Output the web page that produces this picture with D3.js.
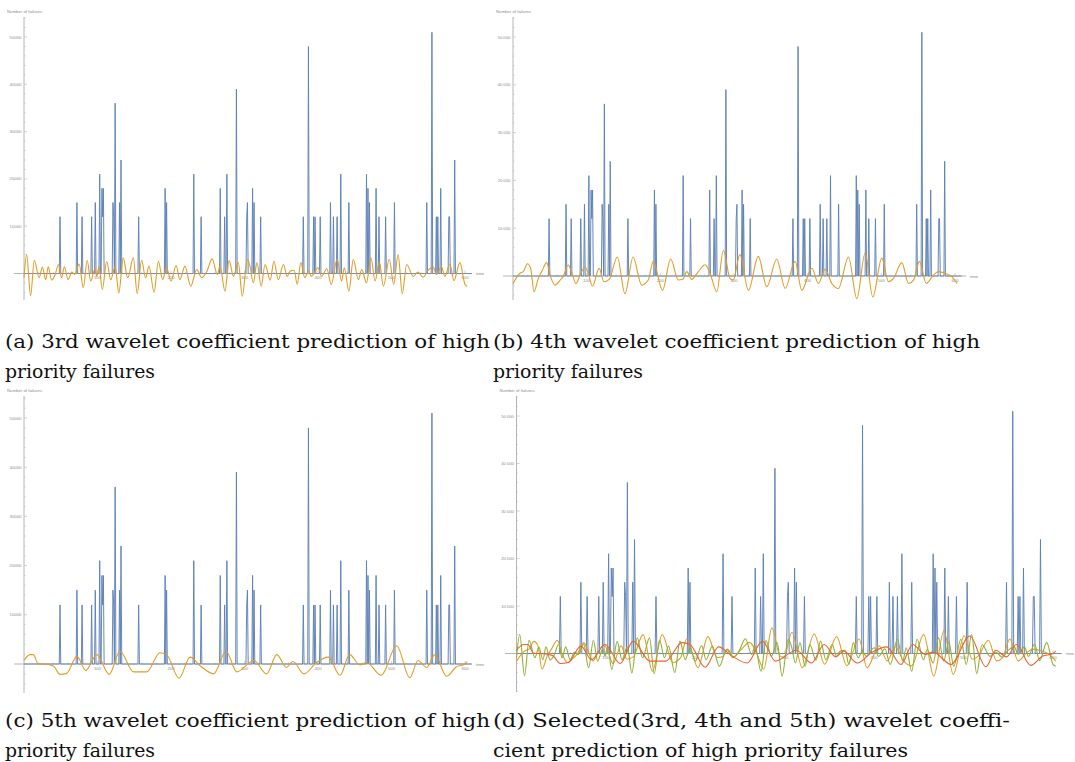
<!DOCTYPE html>
<html>
<head>
<meta charset="utf-8">
<script src="https://cdn.jsdelivr.net/npm/d3@7"></script>
<style>
body { margin: 0; background: #fff; }
</style>
</head>
<body>
<div id="chart-area"></div>
<script>

// number of failures: zero everywhere except at these times
let seriesLength = 610;
let spikeTimes  = [49, 72, 79, 92, 97, 103, 106, 107, 108, 121, 122, 124, 130, 132, 156, 192, 194, 231, 241, 267,
                   273, 276, 289, 303, 304, 311, 313, 322, 380, 387, 394, 396, 403, 417, 421, 426, 431, 442, 466, 468,
                   470, 479, 483, 492, 504, 548, 555, 561, 563, 567, 578, 579, 586];
let spikeValues = [12000, 15000, 12000, 12000, 15000, 21000, 18000, 12000, 18000, 15000, 12000, 36000, 15000, 24000, 12000, 18000, 15000, 21000, 12000, 18000,
                   12000, 21000, 39000, 12000, 15000, 18000, 15000, 12000, 12000, 48000, 12000, 12000, 12000, 15000, 12000, 12000, 21000, 15000, 21000, 18000,
                   15000, 18000, 12000, 12000, 15000, 15000, 51000, 12000, 12000, 18000, 12000, 12000, 24000];

// 3rd wavelet coefficient prediction (turning points)
let wave3T = [0, 3.6, 9, 14, 20.6, 25, 29.5, 33, 37.6, 42, 47, 51, 55, 60, 65, 69, 75, 80.7, 86, 90.7,
              96.6, 99, 102, 106.6, 112.5, 118, 124, 129, 135, 141, 148.8, 154, 160, 165.5, 170, 177, 182.8, 188.7, 194, 200,
              207, 212, 219, 226.8, 235, 241.8, 248.5, 256, 263, 266.7, 273.5, 279, 285, 291.6, 297, 303.9, 307.5, 312, 317, 322.7,
              328, 335, 340, 346, 353, 358, 362, 367.6, 371.7, 376.7, 382, 387, 391, 400, 405, 412, 418, 426, 432, 435.8,
              442, 448, 455, 459.5, 466, 472, 477.7, 483.5, 489, 497, 503, 509, 514.7, 520.6, 529.6, 536, 543, 550, 556.7, 561,
              568, 572.6, 579.4, 585, 593, 600, 603];
let wave3V = [-900, 4000, -4700, 2800, -900, 1350, -1300, 1400, -1400, -400, 1900, -900, 1400, -1300, 300, -200, 2000, -3000, 2800, -1600,
              1000, -600, 1400, -3400, 2550, -1300, 1400, -4100, 3300, -900, 3300, -4250, 2800, -900, 1550, -4000, 2600, -1300, 1200, -1600,
              1700, -1300, 1550, -2700, 850, -900, 350, 3100, -200, 1550, -3750, 2750, -600, 2300, -4800, 3000, 1500, -2000, 2300, -2700,
              1900, -1400, 2600, -1300, 1900, -600, 500, 700, -2300, 2300, -900, 500, -600, 1200, -600, 1000, -2300, 3000, -1600, 1200,
              -3750, 3000, -1300, 850, -2000, 3300, -1600, 2400, -2700, 3000, -2300, 4000, -4250, 1900, -600, 300, -800, 700, 1400, -200,
              1400, -600, 2000, -1500, 2300, -2300, -2700];

// 4th wavelet coefficient prediction
let wave4T = [0, 9.5, 14, 19.5, 24, 28.5, 34.4, 39, 45.7, 51, 57, 64, 68, 75, 80, 85.6, 91, 97.8, 102, 108,
              117, 123.5, 130.6, 141.6, 152, 163, 174.6, 183.6, 190.4, 203, 214, 224.5, 230.4, 235.9, 242.6, 251.6, 260.7, 267.5, 276.6, 285.6,
              294.6, 299, 308, 319.6, 333, 344.6, 358, 369.4, 383, 392, 405.6, 414.6, 423.7, 432.8, 441.8, 455.4, 466.7, 478, 488.4, 500.6,
              509.7, 516.5, 527.8, 536.9, 543.7, 551.8, 560.9, 570.8, 577.6, 586.7, 595.7, 603];
let wave4V = [-1600, 570, 920, 2550, 1600, -3300, -500, 920, 2800, -140, -1900, -850, -140, 2300, 570, -1560, 200, 1840, 570, -2100,
              1600, -1200, -700, 3970, -3700, 3970, -1900, -850, 3050, -3000, 3550, -850, -700, 920, -700, 920, 2340, 570, -3300, 5400,
              -500, -850, 4470, -3000, 4100, -2270, 3550, -2600, 3050, -3000, 1630, -1560, 1420, -1560, -2600, 3970, -4750, 4800, -4400, 3750,
              -1200, -500, 2800, -1560, -850, 3050, -1560, 200, 920, 570, -140, -1600];

// 5th wavelet coefficient prediction
let wave5T = [0, 8, 12.7, 19.5, 26.3, 40, 49, 58, 72, 84, 99, 116, 130.6, 149, 167, 185, 194, 211, 226, 240,
              258, 275, 289.5, 313, 330, 344, 357, 366, 381, 398, 414, 430, 443, 457, 466, 486, 507, 525, 536, 548,
              559, 575, 588, 600, 603];
let wave5V = [700, 1900, 1900, 0, 0, -400, -2100, -1900, 1550, -1300, 1900, -2100, 2600, -1600, -1600, 2300, 1900, -2900, 1400, -400,
              -2000, 2600, -1600, 700, -2000, 1900, -700, 500, -2000, 300, 1400, -2300, 1900, -200, 300, -2300, 3700, -2800, 700, -700,
              1900, -2500, -600, 0, 500];

let xTicks = [100, 200, 300, 400, 500, 600];
let yTicks = [10000, 20000, 30000, 40000, 50000];

let captions = {
  a: ["(a) 3rd wavelet coefficient prediction of high", "priority failures"],
  b: ["(b) 4th wavelet coefficient prediction of high", "priority failures"],
  c: ["(c) 5th wavelet coefficient prediction of high", "priority failures"],
  d: ["(d) Selected(3rd, 4th and 5th) wavelet coeffi-", "cient prediction of high priority failures"]
};

let blue = "#5E81B5", orange = "#E19C24", green = "#8FB032", red = "#EB6235";

let failures = d3.range(seriesLength).map(t => {
  let i = spikeTimes.indexOf(t);
  return {t: t, v: i < 0 ? 0 : spikeValues[i]};
});
let zipWave = (T, V) => T.map((t, i) => ({t: t, v: V[i]}));
let w3 = zipWave(wave3T, wave3V), w4 = zipWave(wave4T, wave4V), w5 = zipWave(wave5T, wave5V);

// panel layout (pixel positions of t=0, t=600, value 0, value 50000)
let panels = [
  {key: "a", x0: 24,    x600: 465,  y0: 273.5, y50: 37,  top: 17,  bottom: 300, axL: 14,  axR: 472,  space: false,
   waves: [[w3, orange]], cap: [5, 348, 378], capW: [485, 150]},
  {key: "b", x0: 513,   x600: 955,  y0: 276,   y50: 37,  top: 17,  bottom: 300, axL: 503, axR: 966,  space: true,
   waves: [[w4, orange]], cap: [493, 348, 378], capW: [487, 150]},
  {key: "c", x0: 24,    x600: 465,  y0: 664,   y50: 418, top: 396, bottom: 693, axL: 14,  axR: 472,  space: false,
   waves: [[w5, orange]], cap: [5, 727, 757], capW: [485, 150]},
  {key: "d", x0: 516.5, x600: 1053, y0: 653.5, y50: 416, top: 396, bottom: 692, axL: 505, axR: 1062, space: true,
   waves: [[w4, orange], [w3, green], [w5, red]], cap: [493, 727, 757], capW: [517, 415]}
];

let svg = d3.select("#chart-area").append("svg")
    .attr("width", 1075)
    .attr("height", 762);

panels.forEach(p => {
  let x = d3.scaleLinear().domain([0, 600]).range([p.x0, p.x600]);
  let y = d3.scaleLinear().domain([0, 50000]).range([p.y0, p.y50]);
  let g = svg.append("g");

  // axes
  let axisColor = "#b5b5b5";
  g.append("line").attr("x1", p.axL).attr("x2", p.axR).attr("y1", y(0)).attr("y2", y(0))
    .attr("stroke", axisColor).attr("stroke-width", 1);
  g.append("line").attr("x1", x(0)).attr("x2", x(0)).attr("y1", p.top).attr("y2", p.bottom)
    .attr("stroke", axisColor).attr("stroke-width", 1);

  // x ticks
  d3.range(20, 620, 20).forEach(t => {
    if (x(t) > p.axR) return;
    let major = t % 100 == 0;
    g.append("line").attr("x1", x(t)).attr("x2", x(t))
      .attr("y1", y(0)).attr("y2", y(0) - (major ? 3 : 1.5))
      .attr("stroke", axisColor).attr("stroke-width", 0.6);
  });
  g.selectAll(".xl").data(xTicks).enter().append("text")
    .attr("x", d => x(d)).attr("y", y(0) + 5.5)
    .attr("text-anchor", "middle")
    .attr("font-family", "Liberation Sans, Arial, sans-serif").attr("font-size", 4.3)
    .attr("fill", "#8c8c8c")
    .text(d => d);

  // y ticks
  let yMin = y.invert(p.bottom), yMax = y.invert(p.top);
  d3.range(-10000, 60000, 2000).forEach(v => {
    if (v < yMin || v > yMax || v == 0) return;
    let major = v % 10000 == 0;
    g.append("line").attr("x1", x(0)).attr("x2", x(0) + (major ? 3 : 1.5))
      .attr("y1", y(v)).attr("y2", y(v))
      .attr("stroke", axisColor).attr("stroke-width", 0.6);
  });
  g.selectAll(".yl").data(yTicks).enter().append("text")
    .attr("x", x(0) - 2.5).attr("y", d => y(d) + 1.5)
    .attr("text-anchor", "end")
    .attr("font-family", "Liberation Sans, Arial, sans-serif").attr("font-size", 4.3)
    .attr("fill", "#8c8c8c")
    .text(d => p.space ? d3.format(",")(d).replace(",", "\u2009") : d);

  g.append("text").attr("x", x(0) - 17).attr("y", p.top - 4)
    .attr("font-family", "Liberation Sans, Arial, sans-serif").attr("font-size", 4.3)
    .attr("fill", "#8c8c8c").text("Number of failures");
  g.append("text").attr("x", p.axR + 4).attr("y", y(0) + 1.5)
    .attr("font-family", "Liberation Sans, Arial, sans-serif").attr("font-size", 4.3)
    .attr("fill", "#8c8c8c").text("time");

  // failures
  let line = d3.line().x(d => x(d.t)).y(d => y(d.v));
  g.append("path").datum(failures)
    .attr("d", line)
    .attr("fill", "none").attr("stroke", blue).attr("stroke-width", 1).attr("stroke-opacity", 0.95);

  // wavelet predictions
  let smooth = d3.line().x(d => x(d.t)).y(d => y(d.v)).curve(d3.curveMonotoneX);
  p.waves.forEach(w => {
    g.append("path").datum(w[0])
      .attr("d", smooth)
      .attr("fill", "none").attr("stroke", w[1]).attr("stroke-width", 1.1);
  });

  // caption
  captions[p.key].forEach((s, i) => {
    svg.append("text")
      .attr("x", p.cap[0]).attr("y", p.cap[1 + i])
      .attr("font-family", "DejaVu Serif, serif")
      .attr("font-size", 18.5)
      .attr("textLength", p.capW[i]).attr("lengthAdjust", "spacingAndGlyphs")
      .attr("fill", "#111")
      .text(s);
  });
});

</script>
</body>
</html>
